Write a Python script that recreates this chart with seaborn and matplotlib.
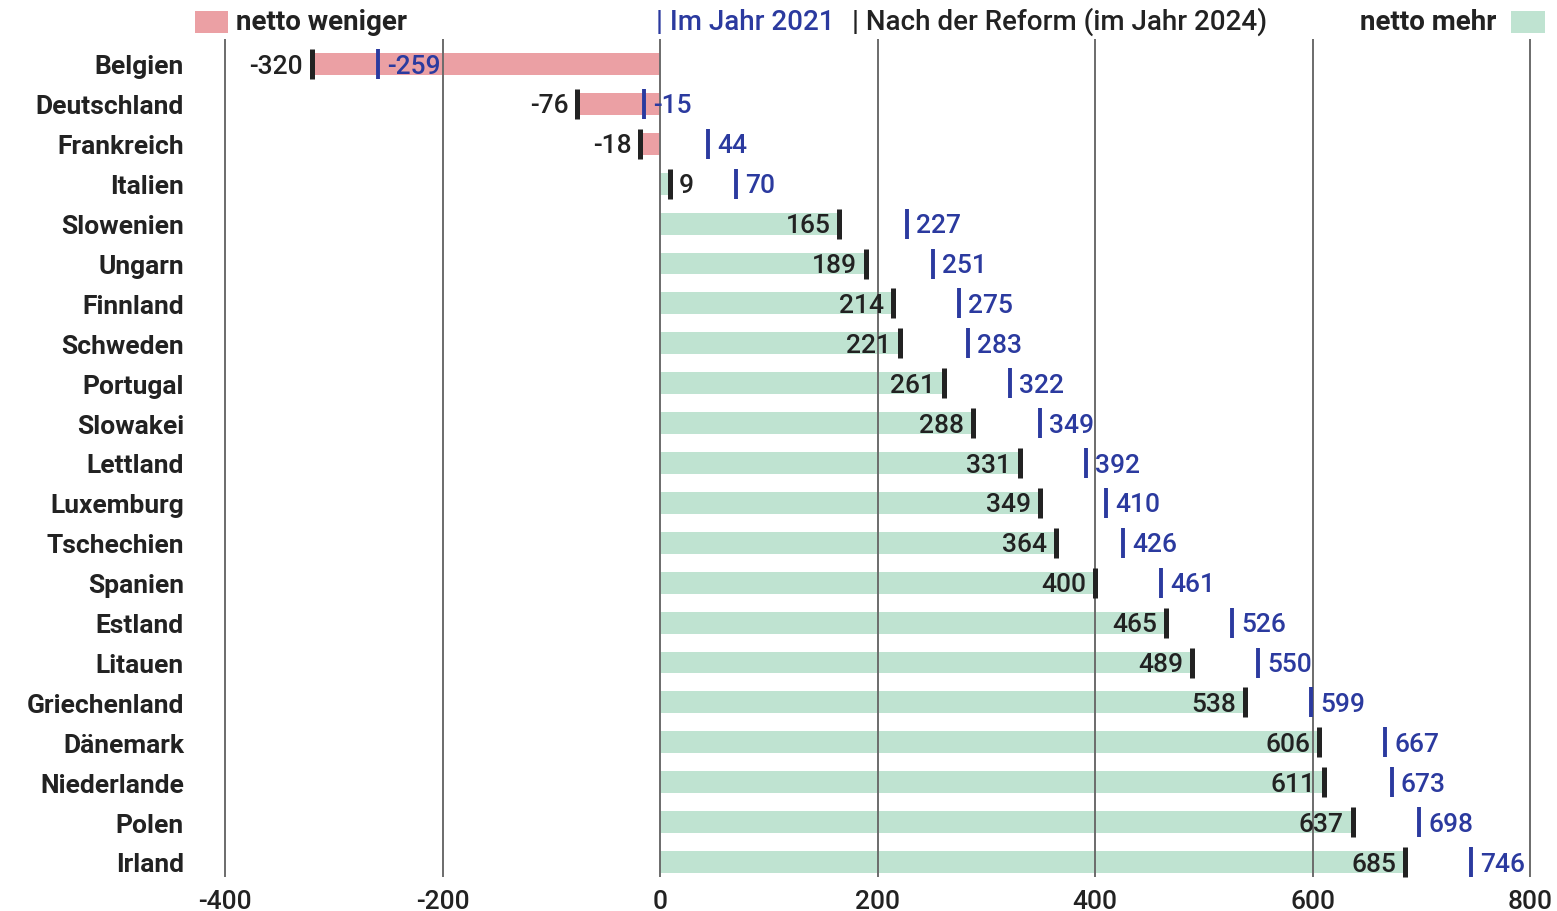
import matplotlib
matplotlib.use("Agg")
import matplotlib.pyplot as plt
import seaborn as sns
import pandas as pd
from matplotlib.patches import Rectangle

countries = ["Belgien", "Deutschland", "Frankreich", "Italien", "Slowenien", "Ungarn",
             "Finnland", "Schweden", "Portugal", "Slowakei", "Lettland", "Luxemburg",
             "Tschechien", "Spanien", "Estland", "Litauen", "Griechenland", "Dänemark",
             "Niederlande", "Polen", "Irland"]
reform_2024 = [-320, -76, -18, 9, 165, 189, 214, 221, 261, 288, 331, 349, 364, 400,
               465, 489, 538, 606, 611, 637, 685]
year_2021 = [-259, -15, 44, 70, 227, 251, 275, 283, 322, 349, 392, 410, 426, 461,
             526, 550, 599, 667, 673, 698, 746]
x_ticks = [-400, -200, 0, 200, 400, 600, 800]

PINK = "#EBA0A4"
GREEN = "#BFE3D1"
BLUE = "#2B3A9F"
DARK = "#222222"
FS = 19

sns.set_theme(style="white")
plt.rcParams["font.family"] = ["Roboto", "DejaVu Sans"]

df = pd.DataFrame({"Land": countries, "2024": reform_2024, "2021": year_2021})
df["Richtung"] = ["weniger" if v < 0 else "mehr" for v in df["2024"]]

fig = plt.figure(figsize=(15.57, 9.12), dpi=100)
W, H = 1557, 912
ax_left, ax_right = 195, 1545
ax_top, ax_bottom = 40, 878
ax = fig.add_axes([ax_left / W, 1 - ax_bottom / H, (ax_right - ax_left) / W, (ax_bottom - ax_top) / H])

sns.barplot(data=df, x="2024", y="Land", hue="Richtung", orient="h",
            palette={"weniger": PINK, "mehr": GREEN}, dodge=False, width=0.55,
            saturation=1, legend=False, ax=ax, zorder=1, linewidth=0)

px_per_unit = (1530 - 225) / 1200.0
ax.set_xlim(-400 - (225 - ax_left) / px_per_unit, 800 + (ax_right - 1530) / px_per_unit)
row_px = (863 - 65) / 20.0
ax.set_ylim(20 + (ax_bottom - 863) / row_px, -(65 - ax_top) / row_px)

for xv in x_ticks:
    ax.axvline(xv, color="#6b6b6b", lw=1.4, zorder=2)

ypos = list(range(len(countries)))
ax.scatter(df["2024"], ypos, marker="|", s=480, linewidths=3.6, color=DARK, zorder=4)
ax.scatter(df["2021"], ypos, marker="|", s=480, linewidths=2.8, color=BLUE, zorder=4)

off_k = 9 / px_per_unit
off_b = 9 / px_per_unit
dy = 0.04
for i, (a, b) in enumerate(zip(df["2024"], df["2021"])):
    if a == 9:
        ax.text(a + off_k, i + dy, f"{a}", ha="left", va="center", fontsize=FS, color=DARK,
                fontweight="medium", zorder=5)
    else:
        ax.text(a - off_k, i + dy, f"{a}", ha="right", va="center", fontsize=FS, color=DARK,
                fontweight="medium", zorder=5)
    ax.text(b + off_b, i + dy, f"{b}", ha="left", va="center", fontsize=FS, color=BLUE,
            fontweight="medium", zorder=5)

ax.set_xticks(x_ticks)
ax.set_xticklabels([str(v) for v in x_ticks], fontsize=FS, color=DARK, fontweight="medium")
ax.tick_params(axis="x", length=0, pad=9)
ax.tick_params(axis="y", length=0, pad=8)
for lbl in ax.get_yticklabels():
    lbl.set_fontsize(FS)
    lbl.set_fontweight("bold")
    lbl.set_color(DARK)
ax.set_xlabel("")
ax.set_ylabel("")
for s in ax.spines.values():
    s.set_visible(False)

# legend row
ly = 1 - 22 / H
LFS = 20
fig.patches.append(Rectangle((195 / W, 1 - 34 / H), 33 / W, 22 / H, transform=fig.transFigure,
                             facecolor=PINK, edgecolor="none"))
fig.text(236 / W, ly, "netto weniger", ha="left", va="center", fontsize=LFS, fontweight="bold", color=DARK)
fig.text(656 / W, ly, "| Im Jahr 2021", ha="left", va="center", fontsize=LFS, color=BLUE, fontweight="medium")
fig.text(852 / W, ly, "| Nach der Reform (im Jahr 2024)", ha="left", va="center", fontsize=LFS,
         color=DARK, fontweight="medium")
fig.text(1496 / W, ly, "netto mehr", ha="right", va="center", fontsize=LFS, fontweight="bold", color=DARK)
fig.patches.append(Rectangle((1511 / W, 1 - 34 / H), 34 / W, 22 / H, transform=fig.transFigure,
                             facecolor=GREEN, edgecolor="none"))

fig.savefig("out.png", dpi=100, facecolor="white")
